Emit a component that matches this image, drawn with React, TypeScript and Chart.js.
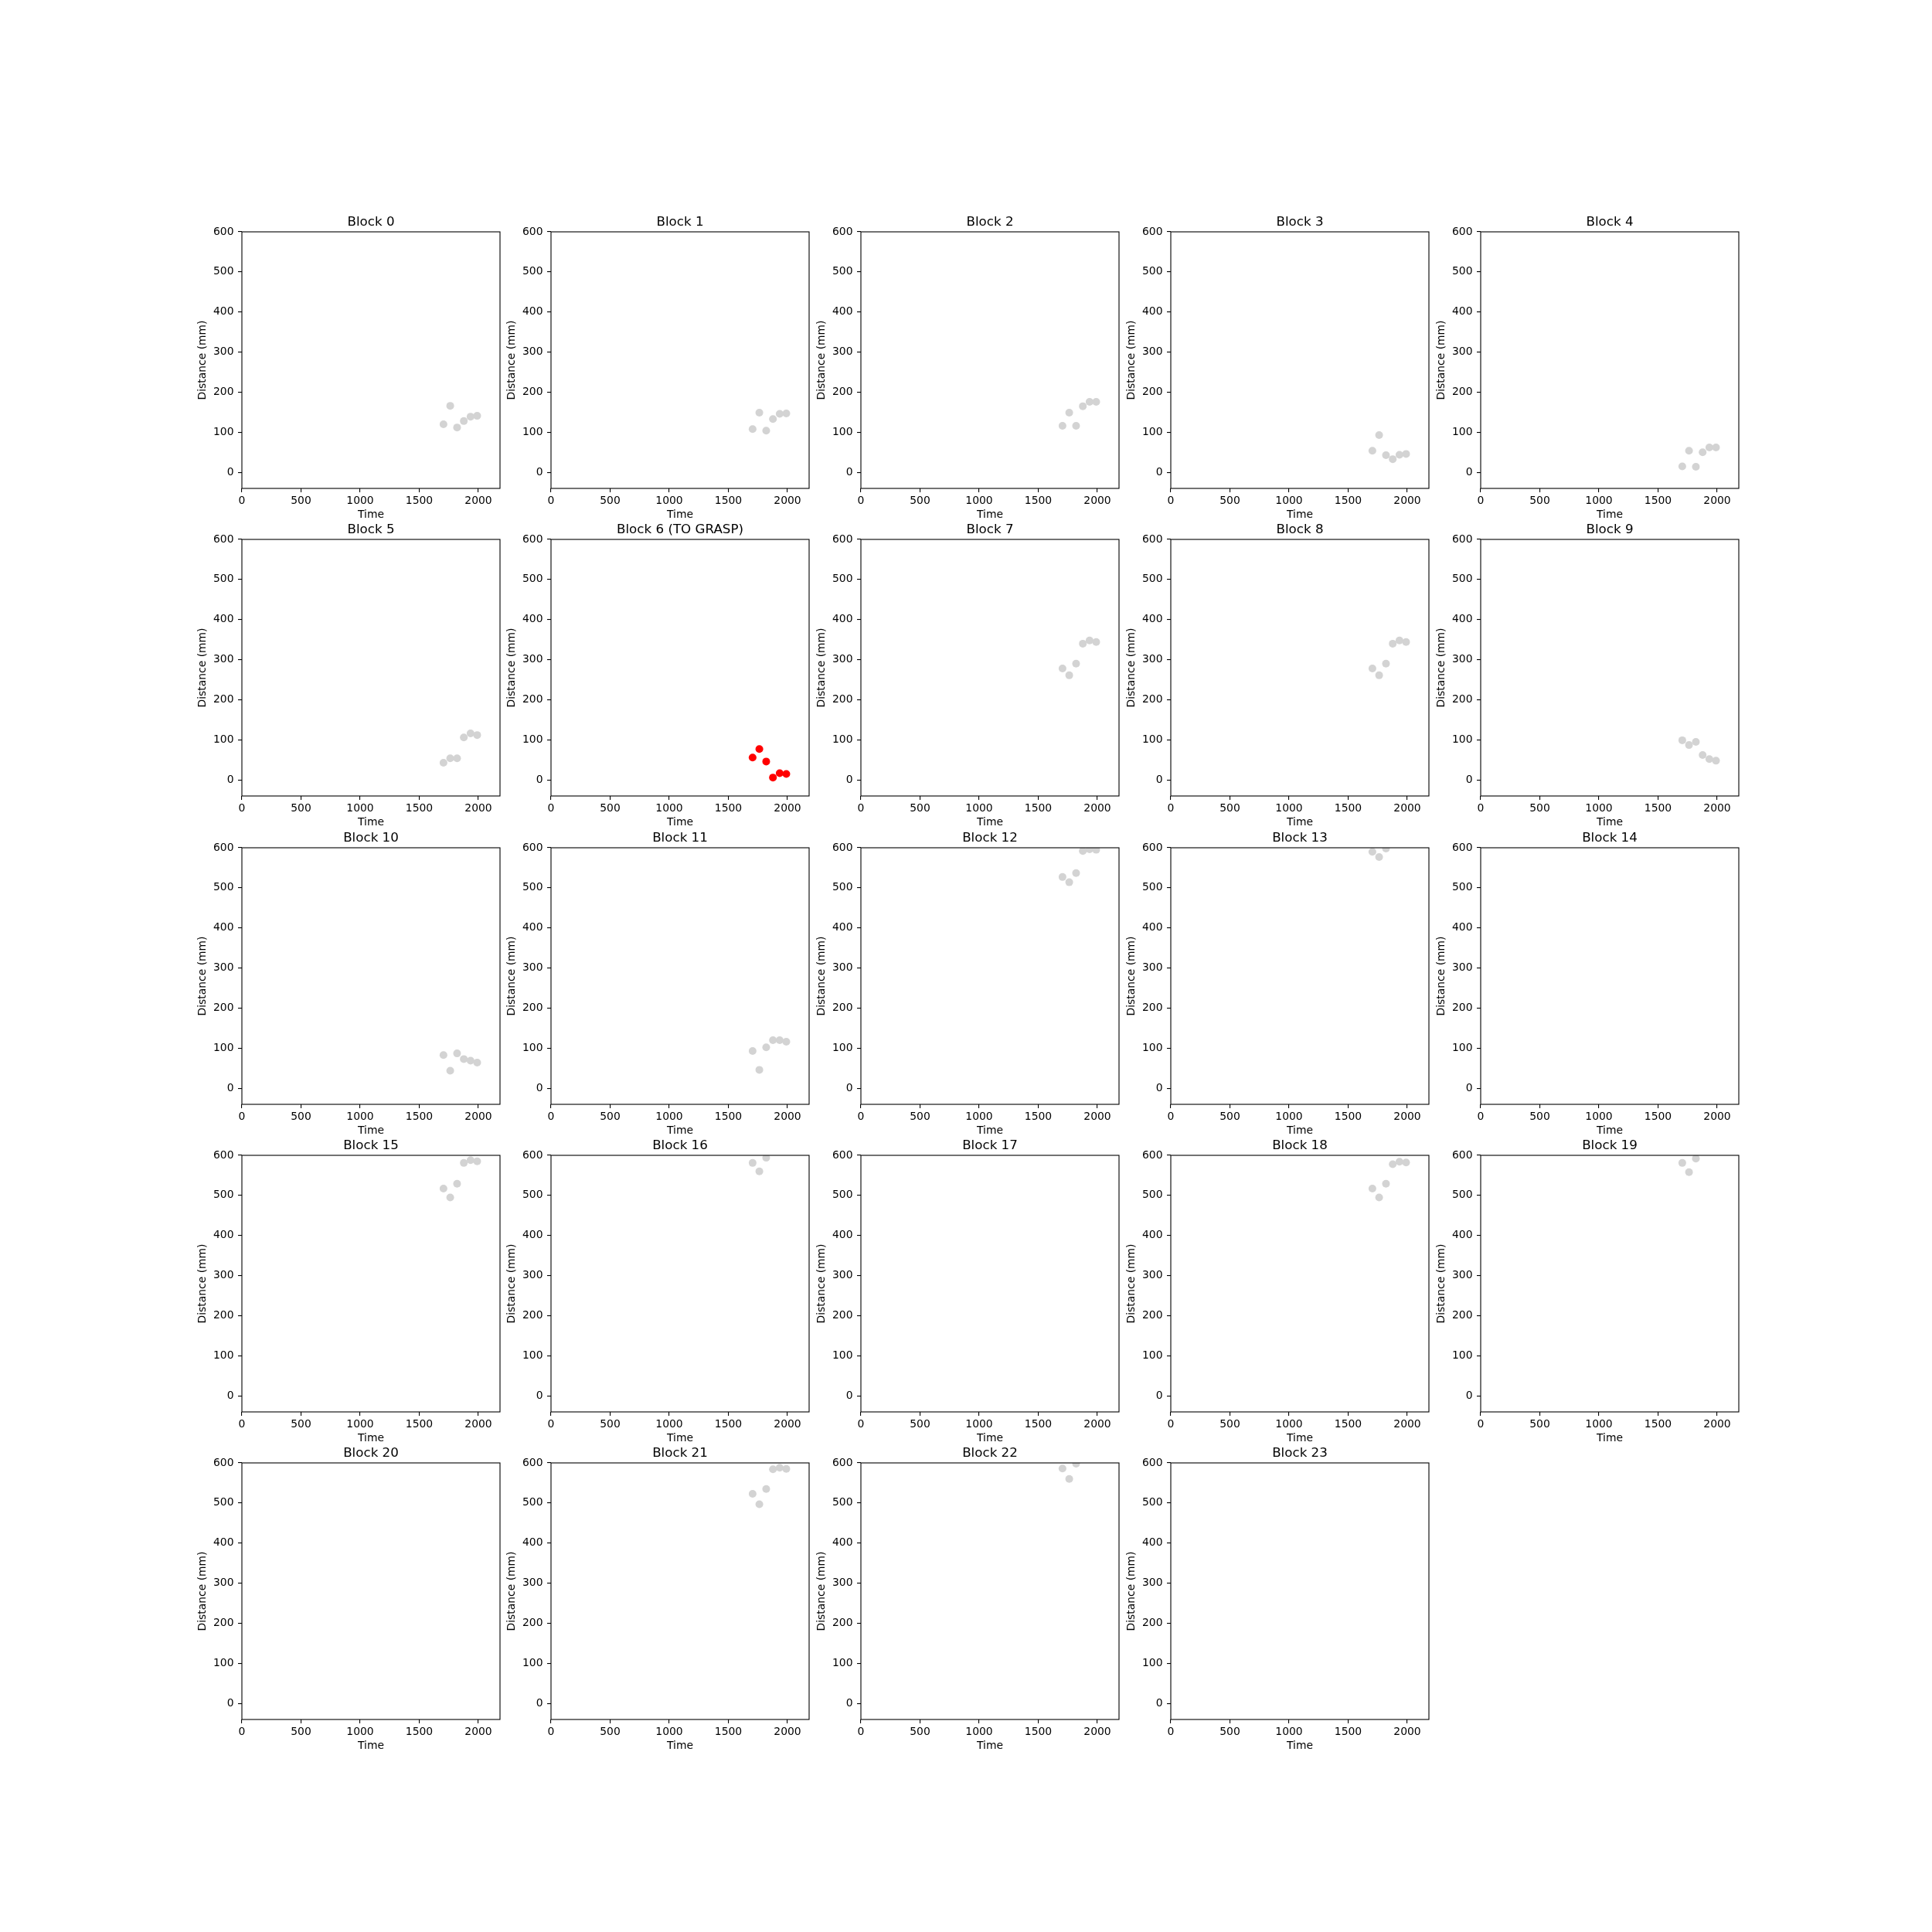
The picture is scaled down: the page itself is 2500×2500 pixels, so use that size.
import React, { useEffect, useRef } from 'react';
import { Chart, registerables } from 'chart.js';

Chart.register(...registerables);

// ---------------- data ----------------
const TIMES = [1705, 1762, 1820, 1877, 1934, 1990];
const X_TICKS = [0, 500, 1000, 1500, 2000];
const Y_TICKS = [0, 100, 200, 300, 400, 500, 600];
const X_MIN = 0;
const X_MAX = 2183;
const Y_MIN = -40;
const Y_MAX = 600;

const BLOCK_0 = [120, 166, 112, 128, 139, 141];
const BLOCK_1 = [108, 149, 104, 133, 146, 147];
const BLOCK_2 = [116, 149, 116, 165, 176, 176];
const BLOCK_3 = [54, 93, 43, 33, 44, 46];
const BLOCK_4 = [15, 54, 14, 50, 62, 62];
const BLOCK_5 = [43, 54, 54, 106, 116, 112];
const BLOCK_6 = [56, 77, 46, 6, 17, 15];
const BLOCK_7 = [278, 261, 290, 340, 348, 344];
const BLOCK_8 = [278, 261, 290, 340, 348, 344];
const BLOCK_9 = [99, 87, 95, 62, 52, 48];
const BLOCK_10 = [83, 44, 87, 73, 69, 64];
const BLOCK_11 = [93, 46, 102, 120, 120, 116];
const BLOCK_12 = [527, 514, 537, 592, 596, 595];
const BLOCK_13 = [590, 577, 598, null, null, null];
const BLOCK_14: (number | null)[] = [];
const BLOCK_15 = [517, 495, 529, 581, 588, 585];
const BLOCK_16 = [581, 560, 594, null, null, null];
const BLOCK_17: (number | null)[] = [];
const BLOCK_18 = [517, 495, 529, 578, 584, 582];
const BLOCK_19 = [581, 558, 592, null, null, null];
const BLOCK_20: (number | null)[] = [];
const BLOCK_21 = [523, 497, 535, 584, 588, 585];
const BLOCK_22 = [586, 560, 598, null, null, null];
const BLOCK_23: (number | null)[] = [];

const BLOCKS: (number | null)[][] = [
  BLOCK_0, BLOCK_1, BLOCK_2, BLOCK_3, BLOCK_4,
  BLOCK_5, BLOCK_6, BLOCK_7, BLOCK_8, BLOCK_9,
  BLOCK_10, BLOCK_11, BLOCK_12, BLOCK_13, BLOCK_14,
  BLOCK_15, BLOCK_16, BLOCK_17, BLOCK_18, BLOCK_19,
  BLOCK_20, BLOCK_21, BLOCK_22, BLOCK_23,
];
const TARGET_BLOCK = 6;

// ---------------- layout ----------------
const FIG_LEFT = 312.5;
const COL_PITCH = 400.86;
const FIG_TOP = 300;
const ROW_PITCH = 398.28;
const N_COLS = 5;
const AX_W = 334;
const AX_H = 332;
const PAD_L = 90;
const PAD_T = 40;
const PAD_R = 20;
const PAD_B = 60;
const FONT = "'DejaVu Sans', sans-serif";

function Subplot({ index }: { index: number }) {
  const ref = useRef<HTMLCanvasElement>(null);
  const col = index % N_COLS;
  const row = Math.floor(index / N_COLS);
  const left = Math.round(FIG_LEFT + col * COL_PITCH) - PAD_L;
  const top = Math.round(FIG_TOP + row * ROW_PITCH) - PAD_T;
  const w = PAD_L + AX_W + PAD_R;
  const h = PAD_T + AX_H + PAD_B;

  useEffect(() => {
    if (!ref.current) return;
    const values = BLOCKS[index];
    const isTarget = index === TARGET_BLOCK;
    const title = `Block ${index}` + (isTarget ? ' (TO GRASP)' : '');
    const points = values.map((y, i) => ({ x: TIMES[i], y }));

    const framePlugin = {
      id: 'frame',
      afterDraw(chart: any) {
        const { ctx, chartArea: a } = chart;
        ctx.save();
        ctx.strokeStyle = '#000';
        ctx.lineWidth = 1.1;
        ctx.strokeRect(a.left, a.top, a.right - a.left, a.bottom - a.top);
        ctx.fillStyle = '#000';
        ctx.font = `16.7px ${FONT}`;
        ctx.textAlign = 'center';
        ctx.textBaseline = 'alphabetic';
        ctx.fillText(title, (a.left + a.right) / 2, a.top - 8.5);
        ctx.restore();
      },
    };

    const tickFont = { family: FONT, size: 13.9 };
    const grid = {
      display: true,
      drawOnChartArea: false,
      drawTicks: true,
      tickLength: 5,
      color: '#000',
      lineWidth: 1.1,
    };

    const chart = new Chart(ref.current, {
      type: 'scatter',
      data: {
        datasets: [
          {
            data: points as any,
            backgroundColor: isTarget ? '#ff0000' : '#d3d3d3',
            borderWidth: 0,
            pointRadius: 5,
            pointHoverRadius: 5,
            clip: 0 as any,
          },
        ],
      },
      options: {
        responsive: false,
        animation: false,
        devicePixelRatio: 1,
        events: [],
        layout: { padding: { left: 0, top: PAD_T, right: PAD_R, bottom: 0 } },
        plugins: {
          legend: { display: false },
          tooltip: { enabled: false },
          title: { display: false },
        },
        scales: {
          x: {
            type: 'linear',
            min: X_MIN,
            max: X_MAX,
            afterBuildTicks: (s: any) => {
              s.ticks = X_TICKS.map((v) => ({ value: v }));
            },
            afterFit: (s: any) => {
              s.height = PAD_B;
            },
            grid,
            border: { display: false },
            ticks: {
              color: '#000',
              font: tickFont,
              padding: 3,
              maxRotation: 0,
              autoSkip: false,
              callback: (v: any) => String(v),
            },
            title: {
              display: true,
              text: 'Time',
              color: '#000',
              font: tickFont,
              padding: { top: 0, bottom: 17.3 },
            },
          },
          y: {
            type: 'linear',
            min: Y_MIN,
            max: Y_MAX,
            afterBuildTicks: (s: any) => {
              s.ticks = Y_TICKS.map((v) => ({ value: v }));
            },
            afterFit: (s: any) => {
              s.width = PAD_L;
            },
            grid,
            border: { display: false },
            ticks: {
              color: '#000',
              font: tickFont,
              padding: 5.5,
              autoSkip: false,
              callback: (v: any) => String(v),
            },
            title: {
              display: true,
              text: 'Distance (mm)',
              color: '#000',
              font: tickFont,
              padding: { top: 31, bottom: 0 },
            },
          },
        },
      },
      plugins: [framePlugin],
    } as any);
    return () => chart.destroy();
  }, [index]);

  return (
    <canvas
      ref={ref}
      width={w}
      height={h}
      style={{ position: 'absolute', left, top, width: w, height: h }}
    />
  );
}

export default function App() {
  return (
    <div
      style={{
        position: 'absolute',
        left: 0,
        top: 0,
        width: 2500,
        height: 2500,
        background: '#fff',
        overflow: 'hidden',
      }}
    >
      {BLOCKS.map((_, i) => (
        <Subplot key={i} index={i} />
      ))}
    </div>
  );
}
